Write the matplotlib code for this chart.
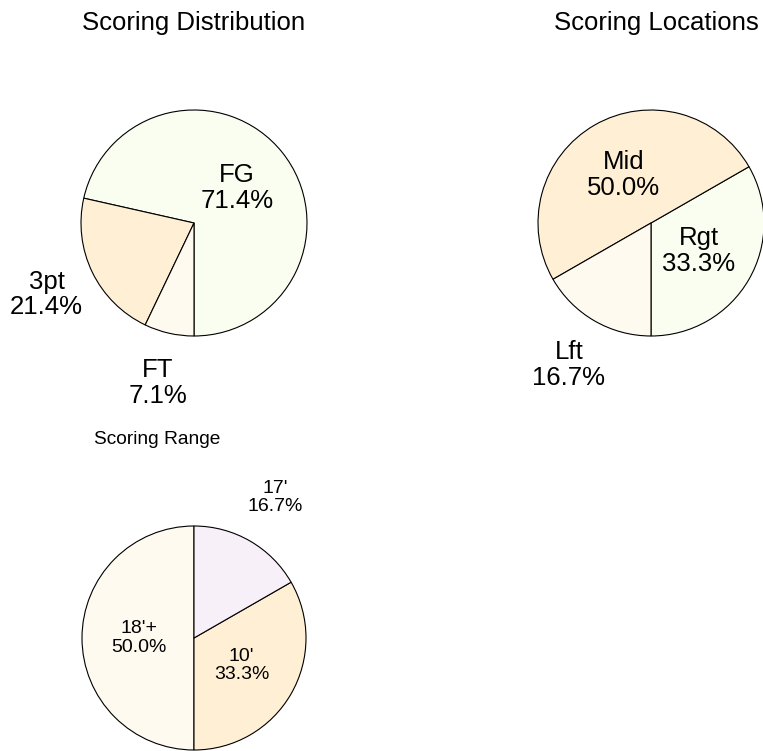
import matplotlib
matplotlib.use("Agg")
import matplotlib.pyplot as plt
import numpy as np

plt.rcParams['font.family'] = ['Liberation Sans', 'DejaVu Sans']

W, H = 763, 751

# scoring breakdowns
dist_labels = ["FG", "3pt", "FT"]
dist_values = [71.4, 21.4, 7.1]
dist_colors = ["#F9FEF0", "#FFEFD5", "#FFFAF0"]

loc_labels = ["Rgt", "Mid", "Lft"]
loc_values = [33.3, 50.0, 16.7]
loc_colors = ["#F9FEF0", "#FFEFD5", "#FFFAF0"]

range_labels = ["18'+", "10'", "17'"]
range_values = [50.0, 33.3, 16.7]
range_colors = ["#FFFAF0", "#FFEFD5", "#F8F0F9"]

fig = plt.figure(figsize=(W / 100, H / 100), dpi=100)


def pie_axes(cx, cy, r):
    # square axes of half-width 1.5*r around pixel centre (cx, cy)
    half = 1.5 * r
    ax = fig.add_axes([(cx - half) / W, 1 - (cy + half) / H, 2 * half / W, 2 * half / H])
    return ax


def draw_pie(ax, labels, values, colors, start, fsize):
    wedges, _ = ax.pie(values, colors=colors, startangle=start, counterclock=True,
                       radius=1.0, normalize=True,
                       wedgeprops=dict(edgecolor='black', linewidth=0.8))
    ax.set_xlim(-1.5, 1.5)
    ax.set_ylim(-1.5, 1.5)
    ax.set_aspect('equal')
    ax.axis('off')
    total = sum(values)
    for w, lab, v in zip(wedges, labels, values):
        mid = np.deg2rad((w.theta1 + w.theta2) / 2)
        d = 0.49 if v / total > 0.25 else 1.45
        ax.text(d * np.cos(mid), d * np.sin(mid), "%s\n%.1f%%" % (lab, v),
                ha='center', va='center', fontsize=fsize, linespacing=1.1,
                clip_on=False)


ax1 = pie_axes(194, 223, 113)
draw_pie(ax1, dist_labels, dist_values, dist_colors, -90, 18.5)

ax2 = pie_axes(651, 223, 113)
draw_pie(ax2, loc_labels, loc_values, loc_colors, -90, 18.5)

ax3 = pie_axes(194, 638, 112)
draw_pie(ax3, range_labels, range_values, range_colors, 90, 14)

fig.text(194 / W, 1 - 23 / H, "Scoring Distribution", ha='center', va='center', fontsize=18.5)
fig.text(656 / W, 1 - 23 / H, "Scoring Locations", ha='center', va='center', fontsize=18.5)
fig.text(157 / W, 1 - 440 / H, "Scoring Range", ha='center', va='center', fontsize=13.8)

fig.savefig("out.png", dpi=100, facecolor='white')
